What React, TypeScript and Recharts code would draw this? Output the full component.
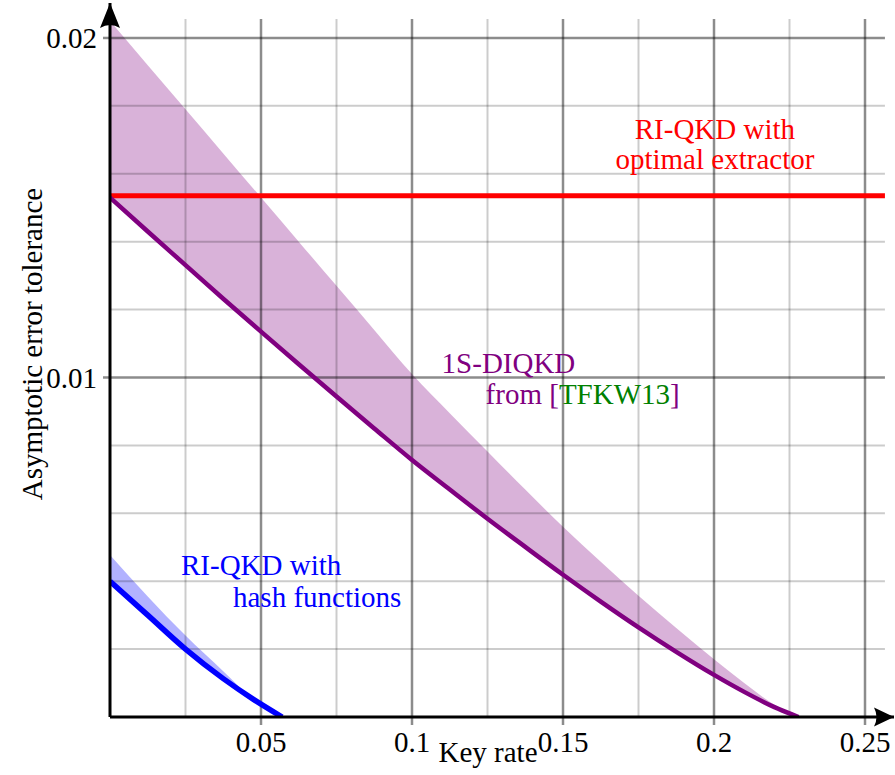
import { ComposedChart, Line, Area, XAxis, YAxis, ReferenceLine, ReferenceDot } from 'recharts';

// key rate (x) and asymptotic error tolerance (y)
const keyRatePurple = [0, 0.0125, 0.025, 0.0375, 0.05, 0.0625, 0.075, 0.0875, 0.1, 0.1125, 0.125, 0.1375, 0.15, 0.1625, 0.175, 0.1875, 0.2, 0.21, 0.22, 0.228];
const tolPurpleLower = [0.0153, 0.0143, 0.01331, 0.01232, 0.01135, 0.01039, 0.00944, 0.0085, 0.00757, 0.0067, 0.00584, 0.00501, 0.00419, 0.0034, 0.00264, 0.00192, 0.00124, 0.00074, 0.00029, 0];
const tolPurpleUpper = [0.0205, 0.0192, 0.0179, 0.0166, 0.0153, 0.014, 0.0127, 0.0114, 0.0101, 0.00895, 0.00782, 0.0067, 0.0056, 0.00457, 0.00357, 0.00262, 0.0017, 0.001, 0.00036, 0];

const keyRateBlue = [0, 0.0125, 0.025, 0.0375, 0.0475, 0.057];
const tolBlueLower = [0.004, 0.003, 0.002, 0.00113, 0.00052, 0];
const tolBlueUpper = [0.00477, 0.00355, 0.0024, 0.00135, 0.00052, 0];

const keyRateRed = [0, 0.2566];
const tolRed = [0.01535, 0.01535];

const xTicks = [0.05, 0.1, 0.15, 0.2, 0.25];
const yTicks = [0.01, 0.02];
const gridX = [0.025, 0.05, 0.075, 0.1, 0.125, 0.15, 0.175, 0.2, 0.225, 0.25];
const gridY = [0.002, 0.004, 0.006, 0.008, 0.01, 0.012, 0.014, 0.016, 0.018, 0.02];

const X_MAX = 0.2596;
const Y_MAX = 0.02103;
const GRID_X_END = 0.2566;
const GRID_Y_END = 0.02056;

const FONT = '"Liberation Serif", "Times New Roman", serif';
const FS = 29;

const purpleBand = keyRatePurple.map((k, i) => ({ k, range: [tolPurpleLower[i], tolPurpleUpper[i]] }));
const purpleLine = keyRatePurple.map((k, i) => ({ k, e: tolPurpleLower[i] }));
const blueBand = keyRateBlue.map((k, i) => ({ k, range: [tolBlueLower[i], tolBlueUpper[i]] }));
const blueLine = keyRateBlue.map((k, i) => ({ k, e: tolBlueLower[i] }));
const redLine = keyRateRed.map((k, i) => ({ k, e: tolRed[i] }));

const isMajor = (v: number, step: number) => Math.abs(v / step - Math.round(v / step)) < 1e-6;

const fmt = (v: number) => String(Number(v.toFixed(3)));

export default function App() {
  return (
    <div style={{ position: 'absolute', left: 0, top: 0, width: 895, height: 775, background: '#fff' }}>
      <ComposedChart
        width={895}
        height={775}
        margin={{ top: 3, right: 1, bottom: 8, left: 10 }}
        style={{ fontFamily: FONT }}
      >
        <XAxis
          type="number"
          dataKey="k"
          domain={[0, X_MAX]}
          allowDataOverflow
          ticks={xTicks}
          tickFormatter={fmt}
          height={50}
          axisLine={{ stroke: '#000', strokeWidth: 3 }}
          tickLine={{ stroke: '#000', strokeOpacity: 0.45, strokeWidth: 2.5 }}
          tickSize={8}
          tickMargin={6}
          tick={{ fill: '#000', fontSize: FS, fontFamily: FONT }}
          label={({ viewBox }: any) => (
            <text x={viewBox.x + 378} y={viewBox.y + 45} textAnchor="middle" fontSize={FS} fontFamily={FONT} fill="#000">
              Key rate
            </text>
          )}
        />
        <YAxis
          type="number"
          domain={[0, Y_MAX]}
          allowDataOverflow
          ticks={yTicks}
          tickFormatter={fmt}
          width={100}
          axisLine={{ stroke: '#000', strokeWidth: 3 }}
          tickLine={{ stroke: '#000', strokeOpacity: 0.45, strokeWidth: 2.5 }}
          tickSize={7}
          tickMargin={6}
          tick={{ fill: '#000', fontSize: FS, fontFamily: FONT }}
          label={({ viewBox }: any) => {
            const cx = viewBox.x + 25;
            const cy = viewBox.y + viewBox.height / 2 - 16;
            return (
              <text x={cx} y={cy} transform={`rotate(-90, ${cx}, ${cy})`} textAnchor="middle" dominantBaseline="middle" fontSize={FS} fontFamily={FONT} fill="#000">
                Asymptotic error tolerance
              </text>
            );
          }}
        />

        {gridX.map((v) => (
          <ReferenceLine
            key={`gx-${v}`}
            segment={[{ x: v, y: 0 }, { x: v, y: GRID_Y_END }]}
            stroke="#000"
            strokeOpacity={isMajor(v, 0.05) ? 0.45 : 0.2}
            strokeWidth={isMajor(v, 0.05) ? 2.5 : 2}
          />
        ))}
        {gridY.map((v) => (
          <ReferenceLine
            key={`gy-${v}`}
            segment={[{ x: 0, y: v }, { x: GRID_X_END, y: v }]}
            stroke="#000"
            strokeOpacity={isMajor(v, 0.01) ? 0.45 : 0.2}
            strokeWidth={isMajor(v, 0.01) ? 2.5 : 2}
          />
        ))}

        <Area data={purpleBand} dataKey="range" type="monotone" fill="#800080" fillOpacity={0.3} stroke="none" isAnimationActive={false} />
        <Area data={blueBand} dataKey="range" type="monotone" fill="#0000ff" fillOpacity={0.3} stroke="none" isAnimationActive={false} />

        <Line data={redLine} dataKey="e" type="linear" stroke="#ff0000" strokeWidth={5} dot={false} isAnimationActive={false} />
        <Line data={purpleLine} dataKey="e" type="monotone" stroke="#800080" strokeWidth={4.5} dot={false} isAnimationActive={false} />
        <Line data={blueLine} dataKey="e" type="monotone" stroke="#0000ff" strokeWidth={5.5} dot={false} isAnimationActive={false} />

        {/* axis arrow heads */}
        <ReferenceDot
          x={0}
          y={Y_MAX}
          ifOverflow="visible"
          shape={({ cx, cy }: any) => (
            <path d={`M ${cx} ${cy} L ${cx + 10} ${cy + 25} Q ${cx} ${cy + 19} ${cx - 10} ${cy + 25} Z`} fill="#000" />
          )}
        />
        <ReferenceDot
          x={X_MAX}
          y={0}
          ifOverflow="visible"
          shape={({ cx, cy }: any) => (
            <path d={`M ${cx} ${cy} L ${cx - 20} ${cy - 9.5} Q ${cx - 15} ${cy} ${cx - 20} ${cy + 9.5} Z`} fill="#000" />
          )}
        />

        {/* annotations */}
        <ReferenceDot
          x={0.2003}
          y={0.01703}
          ifOverflow="visible"
          shape={({ cx, cy }: any) => (
            <text x={cx} y={cy} textAnchor="middle" fontSize={FS} fontFamily={FONT} fill="#ff0000">
              <tspan x={cx}>RI-QKD with</tspan>
              <tspan x={cx} dy={30}>optimal extractor</tspan>
            </text>
          )}
        />
        <ReferenceDot
          x={0.1098}
          y={0.01012}
          ifOverflow="visible"
          shape={({ cx, cy }: any) => (
            <text x={cx} y={cy} fontSize={FS} fontFamily={FONT} fill="#800080">
              <tspan x={cx}>1S-DIQKD</tspan>
              <tspan x={cx + 44} dy={31}>from [</tspan>
              <tspan fill="#008000">TFKW13</tspan>
              <tspan>]</tspan>
            </text>
          )}
        />
        <ReferenceDot
          x={0.0235}
          y={0.00418}
          ifOverflow="visible"
          shape={({ cx, cy }: any) => (
            <text x={cx} y={cy} fontSize={FS} fontFamily={FONT} fill="#0000ff">
              <tspan x={cx}>RI-QKD with</tspan>
              <tspan x={cx + 52} dy={32}>hash functions</tspan>
            </text>
          )}
        />
      </ComposedChart>
    </div>
  );
}
